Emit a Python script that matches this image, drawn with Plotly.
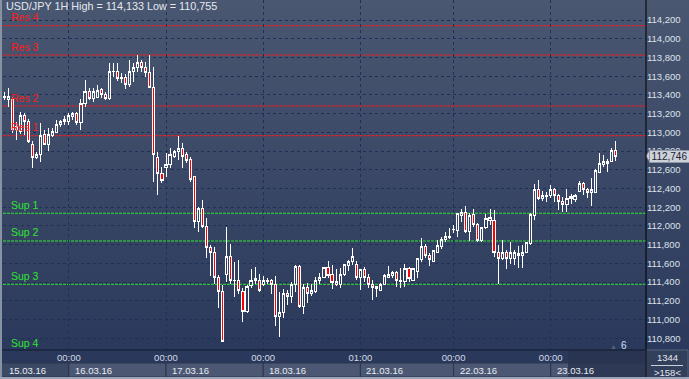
import base64
import plotly.graph_objects as go

# ---------------- data ----------------
opens = [113.377, 113.356, 113.356, 113.025, 113.014, 113.185, 113.111, 112.875, 112.726, 112.758,
         112.982, 112.875, 112.971, 113.003, 113.079, 113.111, 113.121, 113.174, 113.206, 113.100,
         113.313, 113.441, 113.366, 113.377, 113.463, 113.409, 113.366, 113.645, 113.645, 113.570,
         113.591, 113.516, 113.645, 113.688, 113.741, 113.698, 113.634, 113.484, 112.736, 112.555,
         112.619, 112.661, 112.747, 112.790, 112.822, 112.758, 112.715, 112.523, 112.042, 112.181,
         111.989, 111.765, 111.711, 111.444, 111.294, 111.476, 111.668, 111.422, 111.412, 111.294,
         111.081, 111.358, 111.412, 111.422, 111.369, 111.401, 111.412, 111.379, 111.027, 111.070,
         111.273, 111.241, 111.369, 111.561, 111.134, 111.337, 111.273, 111.294, 111.412, 111.444,
         111.551, 111.476, 111.379, 111.379, 111.476, 111.572, 111.615, 111.593, 111.444, 111.529,
         111.444, 111.379, 111.348, 111.315, 111.379, 111.454, 111.465, 111.497, 111.401, 111.401,
         111.540, 111.422, 111.508, 111.636, 111.775, 111.679, 111.615, 111.721, 111.775, 111.850,
         111.871, 111.962, 111.946, 112.106, 112.138, 111.935, 112.117, 112.010, 111.839, 111.978,
         112.063, 112.063, 111.721, 111.647, 111.721, 111.657, 111.657, 111.679, 111.679, 111.721,
         111.807, 112.106, 112.384, 112.298, 112.309, 112.320, 112.384, 112.320, 112.266, 112.234,
         112.288, 112.277, 112.373, 112.448, 112.394, 112.362, 112.362, 112.576, 112.661, 112.672,
         112.683, 112.811]
highs = [113.431, 113.474, 113.377, 113.111, 113.217, 113.206, 113.142, 112.907, 112.790, 113.100,
         113.025, 113.046, 113.046, 113.132, 113.132, 113.174, 113.206, 113.217, 113.217, 113.356,
         113.559, 113.474, 113.474, 113.506, 113.474, 113.431, 113.741, 113.741, 113.741, 113.634,
         113.623, 113.773, 113.741, 113.827, 113.773, 113.752, 113.827, 113.698, 112.790, 112.630,
         112.779, 112.832, 112.811, 112.961, 112.886, 112.790, 112.736, 112.534, 112.202, 112.277,
         112.085, 111.796, 111.775, 111.476, 111.369, 111.989, 111.807, 111.615, 111.636, 111.337,
         111.369, 111.540, 111.561, 111.486, 111.465, 111.444, 111.433, 111.465, 111.294, 111.326,
         111.315, 111.401, 111.583, 111.583, 111.379, 111.390, 111.379, 111.454, 111.497, 111.556,
         111.625, 111.583, 111.540, 111.551, 111.593, 111.636, 111.765, 111.625, 111.540, 111.561,
         111.486, 111.422, 111.358, 111.390, 111.486, 111.572, 111.519, 111.519, 111.551, 111.593,
         111.561, 111.551, 111.657, 111.871, 111.807, 111.711, 111.743, 111.850, 111.882, 111.935,
         111.978, 112.010, 112.138, 112.181, 112.213, 112.138, 112.181, 112.031, 111.989, 112.128,
         112.181, 112.170, 111.796, 111.850, 111.743, 111.829, 111.743, 111.786, 111.796, 111.829,
         112.138, 112.448, 112.491, 112.373, 112.362, 112.437, 112.405, 112.341, 112.309, 112.394,
         112.341, 112.341, 112.480, 112.469, 112.405, 112.512, 112.608, 112.779, 112.758, 112.715,
         112.832, 112.907]
lows = [113.345, 113.270, 112.993, 112.918, 112.982, 112.971, 112.886, 112.619, 112.715, 112.683,
        112.865, 112.800, 112.950, 112.993, 113.057, 113.079, 113.079, 113.132, 113.079, 113.025,
        113.270, 113.345, 113.324, 113.366, 113.366, 113.345, 113.345, 113.591, 113.549, 113.527,
        113.463, 113.484, 113.538, 113.645, 113.645, 113.591, 113.474, 112.469, 112.330, 112.459,
        112.523, 112.619, 112.726, 112.704, 112.619, 112.672, 112.469, 111.978, 111.935, 111.978,
        111.657, 111.465, 111.379, 111.123, 110.755, 111.401, 111.379, 111.241, 111.273, 110.974,
        111.070, 111.337, 111.379, 111.294, 111.358, 111.379, 111.273, 110.931, 110.813, 111.017,
        111.155, 111.177, 111.294, 111.123, 111.059, 111.177, 111.251, 111.283, 111.379, 111.440,
        111.444, 111.326, 111.358, 111.337, 111.465, 111.519, 111.583, 111.422, 111.315, 111.401,
        111.337, 111.209, 111.241, 111.305, 111.369, 111.444, 111.444, 111.348, 111.337, 111.348,
        111.401, 111.412, 111.444, 111.615, 111.657, 111.572, 111.610, 111.711, 111.753, 111.829,
        111.860, 111.925, 111.882, 112.042, 111.925, 111.839, 111.989, 111.829, 111.829, 111.967,
        112.010, 111.668, 111.379, 111.636, 111.540, 111.593, 111.583, 111.551, 111.551, 111.711,
        111.796, 112.063, 112.277, 112.266, 112.256, 112.298, 112.256, 112.170, 112.149, 112.149,
        112.234, 112.256, 112.362, 112.330, 112.298, 112.213, 112.352, 112.566, 112.630, 112.576,
        112.683, 112.693]
closes = [113.388, 113.388, 113.025, 113.057, 113.185, 113.111, 112.897, 112.726, 112.758, 112.971,
          112.875, 112.982, 113.014, 113.089, 113.111, 113.132, 113.185, 113.206, 113.100, 113.313,
          113.431, 113.366, 113.431, 113.452, 113.409, 113.366, 113.645, 113.655, 113.570, 113.591,
          113.506, 113.645, 113.698, 113.741, 113.688, 113.634, 113.484, 112.758, 112.555, 112.480,
          112.661, 112.758, 112.790, 112.822, 112.747, 112.704, 112.491, 112.042, 112.181, 111.989,
          111.765, 111.711, 111.444, 111.294, 110.760, 111.668, 111.422, 111.418, 111.305, 111.081,
          111.348, 111.422, 111.433, 111.305, 111.422, 111.422, 111.379, 111.027, 111.070, 111.273,
          111.251, 111.369, 111.561, 111.134, 111.337, 111.273, 111.315, 111.422, 111.454, 111.551,
          111.465, 111.390, 111.401, 111.486, 111.583, 111.615, 111.668, 111.444, 111.529, 111.444,
          111.379, 111.337, 111.326, 111.379, 111.465, 111.486, 111.497, 111.422, 111.422, 111.540,
          111.433, 111.540, 111.647, 111.775, 111.679, 111.636, 111.732, 111.786, 111.850, 111.882,
          111.882, 111.967, 112.128, 112.138, 111.935, 112.106, 112.010, 111.839, 111.978, 112.074,
          112.085, 111.721, 111.657, 111.721, 111.657, 111.721, 111.711, 111.700, 111.721, 111.818,
          112.117, 112.384, 112.298, 112.320, 112.330, 112.384, 112.320, 112.256, 112.234, 112.288,
          112.309, 112.330, 112.448, 112.394, 112.362, 112.384, 112.587, 112.672, 112.683, 112.693,
          112.811, 112.746]

level_names = ["Res 4", "Res 3", "Res 2", "Res 1", "Sup 1", "Sup 2", "Sup 3", "Sup 4"]
level_values = [114.139, 113.826, 113.281, 112.964, 112.135, 111.839, 111.376, 110.660]

day_start_index = [16, 40, 64, 88, 111, 135]
day_time_labels = ["00:00", "00:00", "00:00", "01:00", "00:00", "00:00"]
date_labels = ["15.03.16", "16.03.16", "17.03.16", "18.03.16", "21.03.16", "22.03.16", "23.03.16"]

price_ticks = [110.8, 111.0, 111.2, 111.4, 111.6, 111.8, 112.0, 112.2, 112.4, 112.6,
               112.8, 113.0, 113.2, 113.4, 113.6, 113.8, 114.0, 114.2]

title_text = "USD/JPY 1H High = 114,133 Low = 110,755"
bars_total = "1344"
scale_text = ">158<"
scroll_text = "6"

# ---------------- styling / geometry ----------------
W, H = 689, 379
ML, MR, MT, MB = 3, 43, 0, 29
PW, PH = W - ML - MR, H - MT - MB
X_RANGE = [-0.25, 158.52]
Y_RANGE = [110.674, 114.414]
FONT = "Liberation Sans, Arial, sans-serif"
RED = "#ff1a1a"
GREEN = "#2ee62e"
px_per_price = PH / (Y_RANGE[1] - Y_RANGE[0])


def xpaper(v):
    return (v - X_RANGE[0]) / (X_RANGE[1] - X_RANGE[0])


def fmt(v):
    return f"{v:.3f}".replace(".", ",")


svg = ('<svg xmlns="http://www.w3.org/2000/svg" width="10" height="100" preserveAspectRatio="none">'
       '<defs><linearGradient id="g" x1="0" y1="0" x2="0" y2="1">'
       '<stop offset="0" stop-color="#4a5771"/><stop offset="1" stop-color="#28365a"/>'
       '</linearGradient></defs><rect width="10" height="100" fill="url(#g)"/></svg>')
svg_uri = "data:image/svg+xml;base64," + base64.b64encode(svg.encode()).decode()

idx = list(range(len(opens)))

fig = go.Figure()
fig.add_trace(go.Candlestick(
    x=idx, open=opens, high=highs, low=lows, close=closes,
    increasing=dict(line=dict(color="#ffffff", width=1), fillcolor="rgba(0,0,0,0)"),
    decreasing=dict(line=dict(color="#ffffff", width=1), fillcolor="#ff0000"),
    whiskerwidth=0, hoverinfo="skip", showlegend=False,
))

shapes = []
annotations = []

# support / resistance lines and labels
for name, val in zip(level_names, level_values):
    col = RED if name.startswith("Res") else GREEN
    shapes.append(dict(type="line", xref="paper", yref="y", x0=0, x1=1, y0=val, y1=val,
                       line=dict(color=col, width=1, dash="3px,1px"), layer="between"))
    annotations.append(dict(text=name, xref="paper", yref="y", x=6 / PW, y=val + 8.5 / px_per_price,
                            xanchor="left", yanchor="middle", showarrow=False,
                            font=dict(family=FONT, size=10.5, color=col)))

# title
annotations.append(dict(text=title_text, xref="paper", yref="paper", x=1 / PW, y=1 + 2 / PH,
                        xanchor="left", yanchor="top", showarrow=False,
                        font=dict(family=FONT, size=10.8, color="#e4e8ee")))

# bottom axis: date row boxes
row2_top = -13 / PH
row2_bot = -27 / PH
box_edges = [X_RANGE[0]] + day_start_index
for i, lab in enumerate(date_labels):
    x0 = xpaper(box_edges[i]) if i > 0 else -ML / PW
    x1 = xpaper(box_edges[i + 1]) if i + 1 < len(box_edges) else 1
    fill = "#3c4964" if i == 0 else "#4c5873"
    shapes.append(dict(type="rect", xref="paper", yref="paper", x0=x0, x1=x1, y0=row2_bot, y1=row2_top,
                       fillcolor=fill, line=dict(color="#2a3650", width=1), layer="above"))
    annotations.append(dict(text=lab, xref="paper", yref="paper", x=x0 + (7 if i == 0 else 4) / PW,
                            y=(row2_top + row2_bot) / 2, xanchor="left", yanchor="middle",
                            showarrow=False, font=dict(family=FONT, size=9.5, color="#e8ecf2")))

# dark panel over the last date box
shapes.append(dict(type="rect", xref="paper", yref="paper", x0=(568 - ML) / PW, x1=1,
                   y0=row2_bot, y1=0, fillcolor="rgba(40,52,80,0.85)", line=dict(width=0), layer="above"))

# right-bottom info box
shapes.append(dict(type="rect", xref="paper", yref="paper", x0=1, x1=(W - 1 - ML) / PW,
                   y0=row2_bot - 1 / PH, y1=0, fillcolor="#33405c", line=dict(color="#56627a", width=1),
                   layer="above"))
shapes.append(dict(type="line", xref="paper", yref="paper", x0=(651 - ML) / PW, x1=(683 - ML) / PW,
                   y0=-15.5 / PH, y1=-15.5 / PH, line=dict(color="#c9d0da", width=1), layer="above"))
annotations.append(dict(text=bars_total, xref="paper", yref="paper", x=(667 - ML) / PW, y=-7 / PH,
                        xanchor="center", yanchor="middle", showarrow=False,
                        font=dict(family=FONT, size=9.5, color="#e4e8ee")))
annotations.append(dict(text=scale_text, xref="paper", yref="paper", x=(667 - ML) / PW, y=-22 / PH,
                        xanchor="center", yanchor="middle", showarrow=False,
                        font=dict(family=FONT, size=9.5, color="#e4e8ee")))

# scroll indicator
annotations.append(dict(text="▲", xref="paper", yref="paper", x=(613 - ML) / PW, y=4 / PH,
                        xanchor="center", yanchor="middle", showarrow=False,
                        font=dict(family=FONT, size=7, color="#56627a")))
annotations.append(dict(text=scroll_text, xref="paper", yref="paper", x=(624 - ML) / PW, y=5 / PH,
                        xanchor="center", yanchor="middle", showarrow=False,
                        font=dict(family=FONT, size=10, color="#cfe0ff")))

# current price marker (pointer + label box drawn over the axis labels)
last = closes[-1]
d = 6 / px_per_price
shapes.append(dict(type="path", xref="paper", yref="y",
                   path=f"M 1,{last} L {4/PW + 1},{last + d} L {4/PW + 1},{last - d} Z",
                   fillcolor="#cdd2d9", line=dict(color="#8e98a8", width=1), layer="above"))
annotations.append(dict(text=fmt(last), xref="paper", yref="y", x=1 + 3 / PW, y=last,
                        xanchor="left", yanchor="middle", showarrow=False,
                        bgcolor="#cdd2d9", bordercolor="#8e98a8", borderwidth=1, borderpad=0,
                        width=39, height=11, align="center",
                        font=dict(family=FONT, size=10, color="#1a2236")))

# frame lines
shapes.append(dict(type="line", xref="paper", yref="paper", x0=1, x1=1, y0=row2_bot, y1=1,
                   line=dict(color="#000000", width=1), layer="above"))
shapes.append(dict(type="line", xref="paper", yref="paper", x0=-ML / PW, x1=1, y0=0, y1=0,
                   line=dict(color="#10182a", width=1), layer="above"))
shapes.append(dict(type="rect", xref="paper", yref="paper", x0=-ML / PW, x1=-1 / PW, y0=-MB / PH, y1=1,
                   fillcolor="#8792a3", line=dict(width=0), layer="above"))
shapes.append(dict(type="rect", xref="paper", yref="paper", x0=-ML / PW, x1=(W - ML) / PW,
                   y0=-MB / PH, y1=(-MB + 2) / PH, fillcolor="#9aa6b6", line=dict(width=0), layer="above"))

fig.update_layout(
    template="none",
    width=W, height=H,
    margin=dict(l=ML, r=MR, t=MT, b=MB, pad=0, autoexpand=False),
    paper_bgcolor="#323f5c", plot_bgcolor="rgba(0,0,0,0)",
    boxgap=0.25,
    showlegend=False, hovermode=False,
    font=dict(family=FONT, size=9, color="#e4e8ee"),
    images=[dict(source=svg_uri, xref="paper", yref="paper", x=-ML / PW, y=1 + MT / PH,
                 sizex=W / PW, sizey=H / PH, xanchor="left", yanchor="top",
                 sizing="stretch", layer="below")],
    shapes=shapes, annotations=annotations,
    xaxis=dict(range=X_RANGE, rangeslider=dict(visible=False), tickmode="array",
               tickvals=day_start_index, ticktext=day_time_labels, ticks="", automargin=False,
               showgrid=True, gridcolor="#1d3058", griddash="3px,3px", gridwidth=1,
               zeroline=False, showline=False, fixedrange=True,
               tickfont=dict(family=FONT, size=9.5, color="#d3dae4")),
    yaxis=dict(range=Y_RANGE, side="right", tickmode="array", tickvals=price_ticks,
               ticktext=[fmt(v) for v in price_ticks], ticks="", automargin=False,
               showgrid=True, gridcolor="#1d3058", griddash="3px,3px", gridwidth=1,
               zeroline=False, showline=False, fixedrange=True,
               tickfont=dict(family=FONT, size=9.5, color="#dde2ea")),
)

fig.write_html(
    "out.html", config={"displayModeBar": False},
    post_script=("document.body.style.margin='0';document.body.style.overflow='hidden';"
                 "document.querySelectorAll('.boxlayer path').forEach(function(p){"
                 "p.style.shapeRendering='crispEdges';});"))
